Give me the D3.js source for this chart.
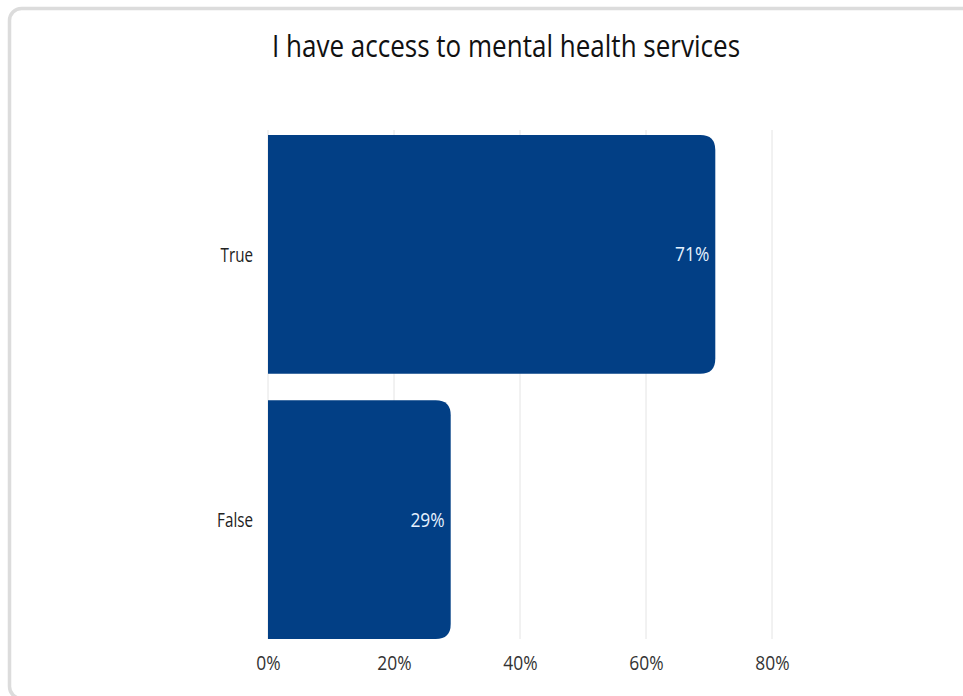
<!DOCTYPE html>
<html>
<head>
<meta charset="utf-8">
<script src="https://cdn.jsdelivr.net/npm/d3@7"></script>
<style>
  html, body { margin: 0; padding: 0; background: #fff; }
  svg { display: block; }
</style>
</head>
<body>
<svg id="chart" width="963" height="696"></svg>
<script>
// Survey answers and their shares (percent)
const categories = ["True", "False"];
const values = [71, 29];
const tickValues = [0, 20, 40, 60, 80];
const title = "I have access to mental health services";

const W = 963, H = 696;
const margin = { left: 268, right: 191, top: 135, bottom: 57 };
const barColor = "#023f85";
const font = "'Open Sans', 'Noto Sans', sans-serif";
// the typeface is drawn slightly condensed
const narrow = 0.87;

const svg = d3.select("#chart");

// card frame
svg.append("rect")
  .attr("x", 9.5).attr("y", 8.5)
  .attr("width", W + 20).attr("height", H - 6)
  .attr("rx", 12)
  .attr("fill", "#fff")
  .attr("stroke", "#dcdcdc")
  .attr("stroke-width", 3.5);

svg.append("text")
  .attr("transform", `translate(506,57) scale(0.84,1)`)
  .attr("text-anchor", "middle")
  .attr("font-family", font)
  .attr("font-size", 31)
  .attr("fill", "#111")
  .text(title);

const x = d3.scaleLinear().domain([0, 80]).range([margin.left, W - margin.right]);
const y = d3.scaleBand().domain(categories)
  .range([margin.top, H - margin.bottom])
  .paddingInner(0.1).paddingOuter(0);

// vertical grid lines
svg.append("g").selectAll("line")
  .data(tickValues)
  .join("line")
  .attr("x1", d => x(d)).attr("x2", d => x(d))
  .attr("y1", margin.top - 5).attr("y2", H - margin.bottom)
  .attr("stroke", "#e4e4e4")
  .attr("stroke-width", 1);

// x axis tick labels
const xAxis = svg.append("g")
  .attr("transform", `translate(0,${H - margin.bottom})`)
  .call(d3.axisBottom(x).tickValues(tickValues).tickFormat(d => d + "%").tickSize(0).tickPadding(0));
xAxis.select(".domain").remove();
xAxis.selectAll("text")
  .attr("y", 0).attr("dy", null)
  .attr("transform", `translate(0,31) scale(${narrow},1)`)
  .attr("font-family", font)
  .attr("font-size", 20)
  .attr("fill", "#333");

// y axis category labels
const yAxis = svg.append("g")
  .attr("transform", `translate(${margin.left},0)`)
  .call(d3.axisLeft(y).tickSize(0).tickPadding(0));
yAxis.select(".domain").remove();
yAxis.selectAll("text")
  .attr("x", 0)
  .attr("transform", `translate(-15,1) scale(0.76,1)`)
  .attr("font-family", font)
  .attr("font-size", 20)
  .attr("fill", "#222");

// bars with rounded right end
const r = 15;
function barPath(d, i) {
  const x0 = x(0), x1 = x(d), y0 = y(categories[i]), h = y.bandwidth();
  const rr = Math.min(r, (x1 - x0), h / 2);
  return `M${x0},${y0}H${x1 - rr}Q${x1},${y0} ${x1},${y0 + rr}` +
         `V${y0 + h - rr}Q${x1},${y0 + h} ${x1 - rr},${y0 + h}H${x0}Z`;
}
svg.append("g").selectAll("path")
  .data(values)
  .join("path")
  .attr("d", barPath)
  .attr("fill", barColor);

// value labels inside bar ends
svg.append("g").selectAll("text")
  .data(values)
  .join("text")
  .attr("transform", (d, i) =>
    `translate(${x(d) - 6},${y(categories[i]) + y.bandwidth() / 2 + 7}) scale(${narrow},1)`)
  .attr("text-anchor", "end")
  .attr("font-family", font)
  .attr("font-size", 20)
  .attr("fill", "#e6f2ff")
  .text(d => d + "%");
</script>
</body>
</html>
